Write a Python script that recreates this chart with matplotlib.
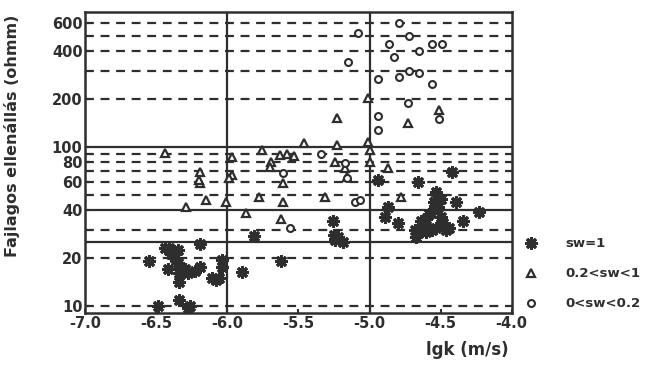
import numpy as np
import matplotlib
matplotlib.use("Agg")
import matplotlib.pyplot as plt

plt.rcParams["font.family"] = ["DejaVu Sans"]
plt.rcParams["font.weight"] = "bold"

ink = "#2e2e2e"

# sw = 1 (csillag)
sw1_x = [-6.55, -6.49, -6.44, -6.41, -6.38, -6.35, -6.40, -6.37, -6.42, -6.35,
         -6.34, -6.34, -6.30, -6.28, -6.23, -6.19, -6.19, -6.34, -6.26, -6.28,
         -6.11, -6.06, -6.08, -6.04, -6.04, -5.90, -5.81, -5.62, -5.26, -5.22,
         -5.19, -5.24, -5.25, -4.94, -4.66, -4.42, -4.87, -4.89, -4.80, -4.53,
         -4.39, -4.23, -4.34, -4.67, -4.68, -4.62, -4.60, -4.58, -4.55, -4.52,
         -4.50, -4.48, -4.56, -4.53, -4.46, -4.60, -4.50, -4.55, -4.64, -4.44]
sw1_y = [19, 10, 23, 23, 22, 22.5, 21, 20, 17, 18.5,
         16, 14, 17, 16, 16.5, 17.6, 24.5, 10.8, 10, 9.7,
         15, 15, 14.6, 19.5, 17.6, 16.4, 27.5, 19, 34, 27,
         25.3, 26, 28, 62, 60, 69, 42, 36, 33, 52,
         45, 39, 34, 27, 30, 32, 35, 38, 40, 42,
         36, 33, 30, 31, 30, 29, 47, 45, 34, 31]

# 0.2 < sw < 1 (haromszog)
tri_x = [-6.44, -6.19, -6.19, -6.20, -6.29, -6.15, -6.01, -5.97, -5.97, -5.87,
         -5.78, -5.61, -5.62, -5.76, -5.69, -5.70, -5.63, -5.58, -5.53, -5.46,
         -5.23, -5.01, -5.24, -5.17, -5.16, -5.61, -5.31, -5.99, -5.00, -5.00,
         -5.23, -5.01, -4.73, -4.51, -4.87, -4.78]
tri_y = [92, 69, 59, 62, 42, 46, 45, 66, 86, 38.5,
         48, 45, 35, 96, 80, 75, 89, 90, 87, 106,
         103, 107, 80, 74, 65, 59, 48, 64, 80, 96,
         152, 204, 141, 171, 74, 48]

# 0 < sw < 0.2 (kor)
circ_x = [-4.79, -4.72, -5.08, -4.86, -4.83, -4.65, -4.56, -4.49, -5.15, -4.94,
          -4.79, -4.72, -4.65, -4.56, -4.73, -4.51, -4.94, -4.94, -5.34, -5.17,
          -5.16, -5.61, -5.10, -5.07, -5.56]
circ_y = [600, 500, 520, 445, 366, 400, 445, 445, 343, 268,
          277, 300, 293, 248, 189, 150, 157, 128, 90, 79,
          64, 68, 45, 46, 31]

dashed_levels = [10, 20, 30, 50, 60, 70, 80, 90, 200, 300, 400, 500, 600]
solid_levels = [25, 40, 100]
vlines = [-6.0, -5.0]
y_ticks = [10, 20, 40, 60, 80, 100, 200, 400, 600]
x_ticks = [-7.0, -6.5, -6.0, -5.5, -5.0, -4.5, -4.0]

fig = plt.figure(figsize=(6.56, 3.77), dpi=100)
ax = fig.add_axes([0.130, 0.170, 0.650, 0.798])

for lv in dashed_levels:
    ax.axhline(lv, color=ink, lw=1.6, ls=(0, (4, 3)), zorder=1)
for lv in solid_levels:
    ax.axhline(lv, color=ink, lw=1.6, zorder=1)
for v in vlines:
    ax.axvline(v, color=ink, lw=1.6, zorder=1)

ax.plot(sw1_x, sw1_y, ls="none", marker=(8, 2, 0), ms=9, mew=2.2,
        color=ink, label="sw=1", zorder=3)
ax.plot(tri_x, tri_y, ls="none", marker="^", ms=6, mew=1.6, mfc="white",
        mec=ink, label="0.2<sw<1", zorder=3)
ax.plot(circ_x, circ_y, ls="none", marker="o", ms=5, mew=1.5, mfc="white",
        mec=ink, label="0<sw<0.2", zorder=3)

ax.set_yscale("log")
ax.set_xlim(-7.0, -4.0)
ax.set_ylim(9.0, 705)
ax.set_yticks(y_ticks)
ax.set_yticklabels([str(t) for t in y_ticks])
ax.yaxis.set_minor_locator(matplotlib.ticker.NullLocator())
ax.set_xticks(x_ticks)
ax.set_xticklabels(["%.1f" % t for t in x_ticks])

ax.tick_params(axis="both", direction="in", length=3, width=1.5, colors=ink,
               labelsize=10.5, pad=2)
for lab in ax.get_xticklabels() + ax.get_yticklabels():
    lab.set_fontweight("bold")
for sp in ax.spines.values():
    sp.set_linewidth(1.8)
    sp.set_color(ink)

ax.set_ylabel("Fajlagos ellenállás (ohmm)", fontsize=11.5, fontweight="bold",
              color=ink)
ax.yaxis.set_label_coords(-0.152, 0.59)
fig.text(0.713, 0.072, "lgk (m/s)", fontsize=12, fontweight="bold",
         color=ink, ha="center", va="center")

leg = ax.legend(loc="center left", bbox_to_anchor=(0.99, 0.13), frameon=False,
                fontsize=9.5, labelspacing=1.3, handletextpad=1.6,
                borderaxespad=0.4)
for t in leg.get_texts():
    t.set_color(ink)

fig.savefig("out.png", dpi=100)
